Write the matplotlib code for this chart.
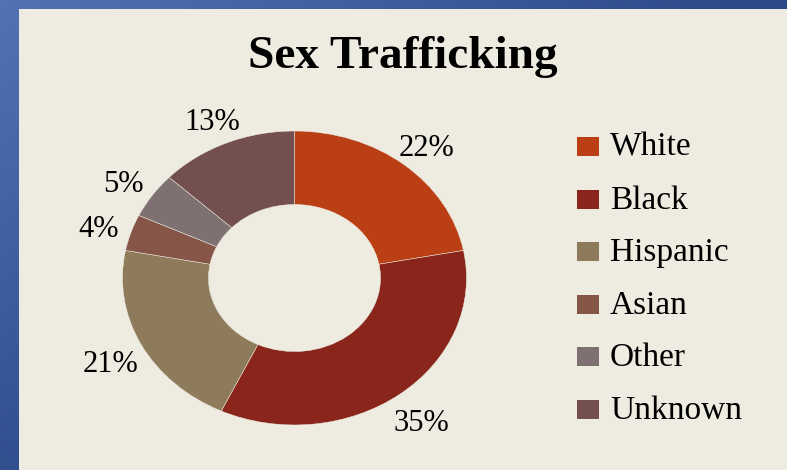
import numpy as np
import matplotlib
matplotlib.use("Agg")
import matplotlib.pyplot as plt
from matplotlib.patches import Rectangle
from matplotlib.colors import LinearSegmentedColormap
from matplotlib.transforms import offset_copy

# ---- data ----
categories = ["White", "Black", "Hispanic", "Asian", "Other", "Unknown"]
values = [22, 35, 21, 4, 5, 13]
pct_labels = ["22%", "35%", "21%", "4%", "5%", "13%"]
colors = ["#BA3F14", "#89251B", "#8D7B5B", "#855548", "#7F7171", "#734F4F"]
title = "Sex Trafficking"

W, H = 787, 470
DPI = 100
fig = plt.figure(figsize=(W / DPI, H / DPI), dpi=DPI)

# ---- background: blue gradient frame + beige panel ----
bg = fig.add_axes([0, 0, 1, 1])
bg.set_axis_off()
yy, xx = np.mgrid[0:1:200j, 0:1:300j]
t = np.clip(0.55 * xx + 0.45 * yy, 0, 1)
cmap = LinearSegmentedColormap.from_list("b", ["#5272B5", "#2E4C8C", "#1C3265"])
bg.imshow(t, cmap=cmap, aspect="auto", extent=[0, 1, 0, 1], origin="upper")
bg.add_patch(Rectangle((19 / W, 0), 1 - 19 / W, 1 - 9 / H,
                       transform=bg.transAxes, facecolor="#EEECE1",
                       edgecolor="none"))
bg.set_xlim(0, 1)
bg.set_ylim(0, 1)

# ---- title ----
fig.text(403 / W, 1 - 68 / H, title, ha="center", va="baseline",
         fontsize=34, fontweight="bold", family="Liberation Serif",
         color="black")

# ---- donut (elliptical, as in reference) ----
cx, cy = 294.5, 278.0
rx, ry = 172.0, 147.0
lim = 1.3
aw, ah = 2 * lim * rx, 2 * lim * ry
ax = fig.add_axes([(cx - lim * rx) / W, ((H - cy) - lim * ry) / H, aw / W, ah / H])
ax.patch.set_alpha(0)
wedges, texts = ax.pie(values, labels=pct_labels, colors=colors,
                       startangle=90, counterclock=False, radius=1.0,
                       labeldistance=1.2,
                       wedgeprops=dict(width=0.5, edgecolor="#EEECE1",
                                       linewidth=0.35),
                       textprops=dict(fontsize=22, family="Liberation Serif",
                                      color="black"))
shift = offset_copy(ax.transData, fig=fig, x=0, y=-6, units="dots")
for tx in texts:
    tx.set_ha("center")
    tx.set_va("center")
    tx.set_transform(shift)
ax.set_aspect("auto")
ax.set_xlim(-lim, lim)
ax.set_ylim(-lim, lim)
ax.set_axis_off()

# ---- legend ----
x_sq, sq_w, sq_h = 577, 22, 19
y0, dy = 137, 52.6
for i, (cat, col) in enumerate(zip(categories, colors)):
    top = y0 + i * dy
    fig.patches.append(Rectangle((x_sq / W, 1 - (top + sq_h) / H), sq_w / W, sq_h / H,
                                 transform=fig.transFigure, facecolor=col,
                                 edgecolor="none"))
    fig.text(610 / W, 1 - (top + sq_h) / H, cat, ha="left", va="baseline",
             fontsize=24, family="Liberation Serif", color="black")

fig.savefig("out.png", dpi=DPI)
